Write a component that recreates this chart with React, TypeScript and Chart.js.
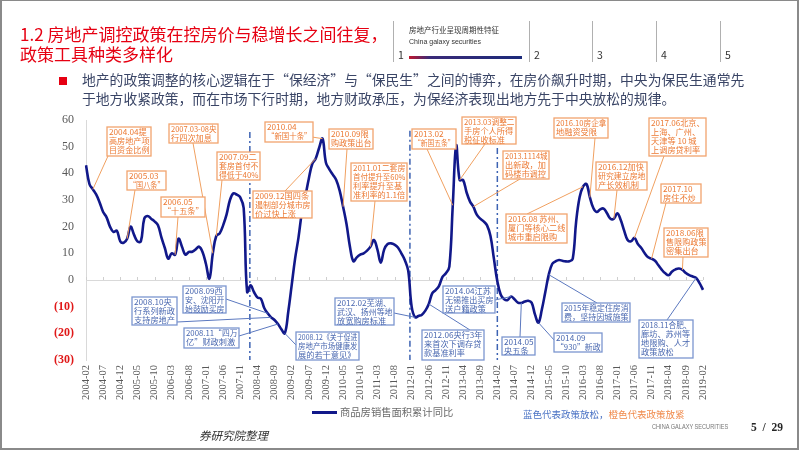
import React, { useEffect, useRef } from 'react';
import { Chart, registerables } from 'chart.js';

Chart.register(...registerables);

// ---------- categories ----------
const START = { year: 2004, month: 2 };
const END = { year: 2019, month: 2 };
function buildMonths(): string[] {
  const out: string[] = [];
  let y = START.year, m = START.month;
  while (y < END.year || (y === END.year && m <= END.month)) {
    out.push(`${y}-${String(m).padStart(2, '0')}`);
    m += 1;
    if (m > 12) { m = 1; y += 1; }
  }
  return out;
}
const months = buildMonths();
const LABEL_EVERY = 5;

// ---------- series: 商品房销售面积累计同比 (%) ----------
const yoy2004 = [43, 36, 34, 32, 29, 25.5, 23.5, 20, 18, 18.5, 14.5]; // Feb-Dec
const yoy2005 = [14, 15.5, 20, 17, 14.5, 14.5, 23, 24, 23, 22, 20.5, 16];
const yoy2006 = [12, 8, 10, 9.5, 15.5, 12.5, 9.5, 10.5, 10.6, 11.5, 12.5, 10.5];
const yoy2007 = [6, 0.5, 10, 16.5, 17.5, 20.5, 24.5, 30, 32.5, 32, 31, 27];
const yoy2008 = [-4.5, -2, -4.5, -6.5, -7, -10.5, -12.5, -14, -15, -16.5, -18.5, -20];
const yoy2009 = [-12, -2, 8, 16, 25.5, 31.5, 38, 43.5, 45.5, 49.5, 53, 44];
const yoy2010 = [41.5, 39.5, 37.5, 33.5, 27.5, 21, 12.5, 7, 8.5, 9.5, 10, 11];
const yoy2011 = [12.5, 15, 11.5, 6.5, 11.5, 13.5, 13.75, 13.3, 12.2, 10, 7.5, 3.5];
const yoy2012 = [-10, -14, -13.5, -13, -11.5, -9, -5, -3.8, -2.2, 1.2, 2.5, 5];
const yoy2013 = [28, 50.5, 37.5, 37.5, 33, 29.5, 27.5, 24.5, 23, 22, 20.5, 16.5];
const yoy2014 = [8, -0.5, -5.5, -7.2, -7.5, -6.2, -7.2, -8.5, -8.6, -8.1, -7.8, -8.5];
const yoy2015 = [-13, -16, -11, -4.5, 2, 6, 7, 7.5, 7.2, 7, 7, 8];
const yoy2016 = [22, 31, 35, 36, 31, 27, 25.5, 26.5, 26.8, 25, 23, 23];
const yoy2017 = [25, 22.5, 18.5, 15, 14.5, 15.8, 13.5, 12, 10, 8.5, 8, 7.2];
const yoy2018 = [5.5, 3.8, 2.5, 1.8, 3.2, 4, 4.3, 3.8, 2.6, 1.8, 1.3, 0.8];
const yoy2019 = [-1.2, -3.7]; // Jan-Feb
const salesAreaYoY = [
  ...yoy2004, ...yoy2005, ...yoy2006, ...yoy2007, ...yoy2008, ...yoy2009,
  ...yoy2010, ...yoy2011, ...yoy2012, ...yoy2013, ...yoy2014, ...yoy2015,
  ...yoy2016, ...yoy2017, ...yoy2018, ...yoy2019,
];

// ---------- y axis ----------
const Y_MIN = -30, Y_MAX = 60, Y_STEP = 10;

// ---------- dashed dividers (month index position, top value) ----------
const dividerPositions = [47.8, 94.5, 120];
const dividerTops = [55.5, 56, 49.5];

// ---------- texts ----------
const TITLE_LINES = ['1.2 房地产调控政策在控房价与稳增长之间往复，', '政策工具种类多样化'];
const BULLET_LINES = [
  '地产的政策调整的核心逻辑在于“保经济”与“保民生”之间的博弈，在房价飙升时期，中央为保民生通常先',
  '于地方收紧政策，而在市场下行时期，地方财政承压，为保经济表现出地方先于中央放松的规律。',
];
const HEADER_TEXT_1 = '房地产行业呈现周期性特征';
const HEADER_TEXT_2 = 'China galaxy securities';
const HEADER_TABS = ['1', '2', '3', '4', '5'];
const LEGEND_LABEL = '商品房销售面积累计同比';
const NOTE_LOOSE = '蓝色代表政策放松，';
const NOTE_TIGHT = '橙色代表政策放紧';
const SOURCE_TEXT = '券研究院整理';
const FOOTER_BRAND = 'CHINA GALAXY SECURITIES';
const PAGE_TEXT = '5  /  29';

// ---------- policy annotations ----------
type Note = {
  month: string;
  kind: 'tight' | 'loose';
  text: string[];
  box: [number, number, number, number];
  anchor: [number, number];
};
const notes: Note[] = [
  { month: '2004-04', kind: 'tight', text: ['2004.04提', '高房地产项', '目资金比例'], box: [107, 127, 44, 29], anchor: [108, 156] },
  { month: '2005-02', kind: 'tight', text: ['2005.03', '“国八条”'], box: [127, 171, 39, 19], anchor: [135, 190] },
  { month: '2006-04', kind: 'tight', text: ['2006.05', '“十五条”'], box: [161, 197, 44, 20], anchor: [178, 217] },
  { month: '2007-03', kind: 'tight', text: ['2007.03-08央', '行四次加息'], box: [169, 124, 49, 19], anchor: [193, 143] },
  { month: '2007-04', kind: 'tight', text: ['2007.09二', '套房首付不', '得低于40%'], box: [217, 152, 43, 28], anchor: [222, 180] },
  { month: '2009-11', kind: 'tight', text: ['2010.04', '“新国十条”'], box: [265, 122, 48, 20], anchor: [312, 137] },
  { month: '2009-09', kind: 'tight', text: ['2009.12国四条', '遏制部分城市房', '价过快上涨'], box: [253, 191, 59, 27], anchor: [285, 191] },
  { month: '2010-05', kind: 'tight', text: ['2010.09限', '购政策出台'], box: [329, 129, 44, 20], anchor: [347, 149] },
  { month: '2011-01', kind: 'tight', text: ['2011.01二套房', '首付提升至60%', '利率提升至基', '准利率的1.1倍'], box: [351, 163, 56, 38], anchor: [375, 201] },
  { month: '2013-01', kind: 'tight', text: ['2013.02', '“新国五条”'], box: [412, 129, 44, 20], anchor: [427, 149] },
  { month: '2013-03', kind: 'tight', text: ['2013.03调整二', '手房个人所得', '税征收标准'], box: [462, 117, 54, 27], anchor: [485, 144] },
  { month: '2013-07', kind: 'tight', text: ['2013.1114城', '出新政，加', '码楼市调控'], box: [503, 151, 46, 28], anchor: [520, 179] },
  { month: '2016-03', kind: 'tight', text: ['2016.08 苏州、', '厦门等核心二线', '城市重启限购'], box: [506, 214, 61, 29], anchor: [527, 214] },
  { month: '2016-05', kind: 'tight', text: ['2016.10房企拿', '地融资受限'], box: [554, 118, 54, 20], anchor: [595, 138] },
  { month: '2016-12', kind: 'tight', text: ['2016.12加快', '研究建立房地', '产长效机制'], box: [596, 162, 51, 28], anchor: [617, 190] },
  { month: '2017-06', kind: 'tight', text: ['2017.06北京、', '上海、广州、', '天津等 10 城', '上调房贷利率'], box: [649, 118, 57, 38], anchor: [664, 156] },
  { month: '2017-11', kind: 'tight', text: ['2017.10', '房住不炒'], box: [661, 184, 40, 19], anchor: [666, 203] },
  { month: '2018-08', kind: 'tight', text: ['2018.06限', '售限购政策', '密集出台'], box: [664, 228, 44, 29], anchor: [683, 257] },
  { month: '2008-07', kind: 'loose', text: ['2008.09西', '安、沈阳开', '始鼓励买房'], box: [183, 286, 43, 27], anchor: [226, 299] },
  { month: '2008-08', kind: 'loose', text: ['2008.10央', '行系列新政', '支持房地产'], box: [132, 297, 45, 28], anchor: [177, 322] },
  { month: '2008-10', kind: 'loose', text: ['2008.11“四万', '亿”财政刺激'], box: [184, 328, 55, 20], anchor: [239, 336] },
  { month: '2008-12', kind: 'loose', text: ['2008.12《关于促进', '房地产市场健康发', '展的若干意见》'], box: [296, 332, 63, 28], anchor: [296, 345] },
  { month: '2012-02', kind: 'loose', text: ['2012.02芜湖、', '武汉、扬州等地', '放宽购房标准'], box: [335, 298, 59, 27], anchor: [394, 313] },
  { month: '2012-06', kind: 'loose', text: ['2012.06央行3年', '来首次下调存贷', '款基准利率'], box: [422, 330, 62, 30], anchor: [470, 330] },
  { month: '2014-06', kind: 'loose', text: ['2014.04江苏', '无锡推出买房', '送户籍政策'], box: [443, 286, 52, 27], anchor: [495, 300] },
  { month: '2014-09', kind: 'loose', text: ['2014.05', '央五条'], box: [502, 337, 33, 18], anchor: [520, 337] },
  { month: '2015-02', kind: 'loose', text: ['2014.09', '“930”新政'], box: [554, 333, 48, 19], anchor: [555, 341] },
  { month: '2015-05', kind: 'loose', text: ['2015年稳定住房消', '费，坚持因城施策'], box: [562, 303, 68, 19], anchor: [597, 303] },
  { month: '2018-12', kind: 'loose', text: ['2018.11合肥、', '廊坊、苏州等', '地限购、人才', '政策放松'], box: [639, 320, 54, 38], anchor: [667, 320] },
];

const COLORS = {
  line: '#11188a',
  tightText: '#ec7a34',
  tightBorder: '#f2a46e',
  tightLeader: '#f0a060',
  looseText: '#4a68b0',
  looseBorder: '#7b96cf',
  looseLeader: '#5b78bf',
  divider: '#3d63b3',
  axis: '#d9d9d9',
  tick: '#595959',
  neg: '#e01818',
  red: '#e60012',
};

const SERIF = '"Liberation Serif", "Times New Roman", serif';
const CJK = '"Noto Sans CJK SC", sans-serif';

const overlayPlugin = {
  id: 'policyOverlay',
  beforeDatasetsDraw(chart: any) {
    const { ctx, scales, chartArea } = chart;
    const x = scales.x, y = scales.y;
    ctx.save();
    const y0 = y.getPixelForValue(0);
    ctx.strokeStyle = '#cfcfcf';
    ctx.lineWidth = 1;
    months.forEach((_, i) => {
      if (i % LABEL_EVERY === 0) {
        const px = Math.round(x.getPixelForValue(i)) + 0.5;
        ctx.beginPath();
        ctx.moveTo(px, y0 - 3);
        ctx.lineTo(px, y0);
        ctx.stroke();
      }
    });
    ctx.setLineDash([6, 3, 2, 3]);
    ctx.strokeStyle = COLORS.divider;
    ctx.lineWidth = 1.5;
    dividerPositions.forEach((p, k) => {
      const px = x.getPixelForValue(p);
      ctx.beginPath();
      ctx.moveTo(px, y.getPixelForValue(dividerTops[k]));
      ctx.lineTo(px, chartArea.bottom);
      ctx.stroke();
    });
    ctx.restore();
  },
  afterDatasetsDraw(chart: any) {
    const { ctx, scales } = chart;
    const x = scales.x, y = scales.y;
    ctx.save();
    notes.forEach((n) => {
      const i = months.indexOf(n.month);
      const px = x.getPixelForValue(i);
      const py = y.getPixelForValue(salesAreaYoY[i]);
      ctx.strokeStyle = n.kind === 'tight' ? COLORS.tightLeader : COLORS.looseLeader;
      ctx.lineWidth = 1;
      ctx.beginPath();
      ctx.moveTo(n.anchor[0], n.anchor[1]);
      ctx.lineTo(px, py);
      ctx.stroke();
    });
    ctx.font = `8.2px ${CJK}`;
    ctx.textBaseline = 'top';
    ctx.textAlign = 'left';
    notes.forEach((n) => {
      const [bx, by, bw, bh] = n.box;
      ctx.fillStyle = '#ffffff';
      ctx.fillRect(bx, by, bw, bh);
      ctx.strokeStyle = n.kind === 'tight' ? COLORS.tightBorder : COLORS.looseBorder;
      ctx.lineWidth = 1.3;
      ctx.strokeRect(bx, by, bw, bh);
      ctx.fillStyle = n.kind === 'tight' ? COLORS.tightText : COLORS.looseText;
      n.text.forEach((t, k) => {
        ctx.fillText(t, bx + 2, by + 1 + k * 9, bw - 3.5);
      });
    });
    ctx.restore();
  },
};

export default function App() {
  const ref = useRef<HTMLCanvasElement>(null);

  useEffect(() => {
    if (!ref.current) return;
    const chart = new Chart(ref.current, {
      type: 'line',
      data: {
        labels: months,
        datasets: [
          {
            label: LEGEND_LABEL,
            data: salesAreaYoY,
            borderColor: COLORS.line,
            backgroundColor: COLORS.line,
            borderWidth: 2.6,
            pointRadius: 0,
            tension: 0.4,
            fill: false,
          },
        ],
      },
      options: {
        responsive: false,
        maintainAspectRatio: false,
        animation: false,
        events: [],
        layout: { padding: { top: 120, right: 99, bottom: 36, left: 0 } },
        plugins: {
          legend: { display: false },
          tooltip: { enabled: false },
        },
        scales: {
          x: {
            type: 'category',
            grid: { display: false, drawTicks: false },
            border: { display: false },
            ticks: {
              autoSkip: false,
              minRotation: 90,
              maxRotation: 90,
              padding: 5,
              color: COLORS.tick,
              font: { family: SERIF, size: 10.5 },
              callback: (_v: any, idx: number) => (idx % LABEL_EVERY === 0 ? months[idx] : ''),
            },
            afterFit: (s: any) => {
              s.height = 55;
              s.paddingLeft = 0;
              s.paddingRight = 0;
            },
          },
          y: {
            min: Y_MIN,
            max: Y_MAX,
            grid: {
              drawTicks: false,
              color: (c: any) => (c.tick && c.tick.value === 0 ? COLORS.axis : 'rgba(0,0,0,0)'),
            },
            border: { display: true, color: COLORS.axis, width: 1 },
            ticks: {
              stepSize: Y_STEP,
              padding: 12,
              color: (c: any) => (c.tick && c.tick.value < 0 ? COLORS.neg : COLORS.tick),
              font: (c: any) => ({
                family: SERIF,
                size: 12,
                weight: c.tick && c.tick.value < 0 ? 'bold' : 'normal',
              }),
              callback: (v: any) => (Number(v) < 0 ? `(${-Number(v)})` : `${v}`),
            },
            afterFit: (s: any) => {
              s.width = 86;
              s.paddingTop = 0;
              s.paddingBottom = 0;
            },
          },
        },
      },
      plugins: [overlayPlugin],
    } as any);
    return () => chart.destroy();
  }, []);

  const abs = (o: React.CSSProperties): React.CSSProperties => ({ position: 'absolute', whiteSpace: 'pre', ...o });
  const separators = [393, 529, 592, 656, 720];

  return (
    <div style={{ position: 'absolute', left: 0, top: 0, width: 802, height: 451, background: '#ffffff', overflow: 'hidden' }}>
      <canvas ref={ref} width={802} height={451} style={{ position: 'absolute', left: 0, top: 0, width: 802, height: 451 }} />

      <div style={abs({ left: 0, top: 0, width: 799, height: 450, boxSizing: 'border-box', borderLeft: '2px solid #8a8a8a', borderTop: '1px solid #8a8a8a', borderRight: '2px solid #8a8a8a', borderBottom: '2px solid #8a8a8a' })} />

      <div style={abs({ left: 20, top: 24, fontFamily: CJK, fontSize: 17, lineHeight: '20px', color: COLORS.red, fontWeight: 400 })}>
        {TITLE_LINES.map((l, i) => <div key={i}>{l}</div>)}
      </div>

      {separators.map((sx, i) => (
        <div key={'s' + i} style={abs({ left: sx, top: 21, width: 1, height: 41, background: '#b0b0b0' })} />
      ))}
      {HEADER_TABS.map((t, i) => (
        <div key={'t' + i} style={abs({ left: separators[i] + 5, top: 49, fontFamily: CJK, fontSize: 10.5, lineHeight: '12px', color: '#333' })}>{t}</div>
      ))}
      <div style={abs({ left: 409, top: 25, fontFamily: CJK, fontSize: 7.5, lineHeight: '9px', color: '#333' })}>{HEADER_TEXT_1}</div>
      <div style={abs({ left: 409, top: 37, fontFamily: '"Liberation Sans", sans-serif', fontSize: 7, lineHeight: '9px', color: '#333' })}>{HEADER_TEXT_2}</div>
      <div style={abs({ left: 409, top: 56, width: 113, height: 3, background: 'linear-gradient(90deg, #c0182e 0%, #3a2a78 18%, #1c2a7a 100%)' })} />

      <div style={abs({ left: 59, top: 77, width: 8, height: 8, background: COLORS.red })} />
      <div style={abs({ left: 82, top: 70, fontFamily: CJK, fontSize: 13.8, lineHeight: '18.5px', color: '#3a4566' })}>
        {BULLET_LINES.map((l, i) => <div key={i}>{l}</div>)}
      </div>

      <div style={abs({ left: 312, top: 411, width: 25, height: 3, background: COLORS.line })} />
      <div style={abs({ left: 340, top: 405, fontFamily: CJK, fontSize: 10.3, lineHeight: '14px', color: '#6b6b6b' })}>{LEGEND_LABEL}</div>

      <div style={abs({ left: 523, top: 407, fontFamily: CJK, fontSize: 9.5, lineHeight: '14px' })}>
        <span style={{ color: '#4a72c4' }}>{NOTE_LOOSE}</span>
        <span style={{ color: '#f08a4b' }}>{NOTE_TIGHT}</span>
      </div>

      <div style={abs({ left: 199, top: 427, fontFamily: CJK, fontSize: 11.5, lineHeight: '16px', color: '#333', fontStyle: 'italic' })}>{SOURCE_TEXT}</div>
      <div style={abs({ left: 652, top: 422, fontFamily: '"Liberation Sans", sans-serif', fontSize: 6.6, lineHeight: '10px', color: '#777', transform: 'scaleX(0.85)', transformOrigin: 'left center' })}>{FOOTER_BRAND}</div>
      <div style={abs({ left: 751, top: 420, fontFamily: SERIF, fontSize: 11.5, lineHeight: '14px', color: '#262626', fontWeight: 'bold' })}>{PAGE_TEXT}</div>
    </div>
  );
}
